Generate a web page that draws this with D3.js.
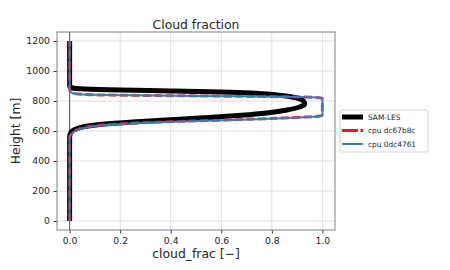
<!DOCTYPE html>
<html lang="en">
<head>
  <meta charset="UTF-8">
  <title>Cloud fraction</title>
  <script src="https://d3js.org/d3.v7.min.js"></script>
  <style>
    body { margin: 0; background: #fff; }
    text { font-family: "DejaVu Sans", sans-serif; fill: #262626; }
    .grid line { stroke: #d6d6d6; stroke-width: 0.8; }
    .axis path { display: none; }
    .axis line { stroke: #333; }
  </style>
</head>
<body>
  <script>
    // SAM-LES profile (height [m], cloud fraction)
    var lesHeight = [0, 560, 590, 610, 630, 645, 660, 675, 690, 705, 720, 740, 760, 780, 800, 820, 835, 850, 860, 867, 873, 880, 888, 900, 1200];
    var lesFrac   = [0, 0, 0.005, 0.02, 0.06, 0.13, 0.25, 0.4, 0.55, 0.68, 0.78, 0.86, 0.91, 0.93, 0.925, 0.9, 0.85, 0.75, 0.6, 0.4, 0.2, 0.06, 0.01, 0, 0];

    // cpu dc67b8c
    var redHeight = [0, 560, 575, 590, 605, 620, 635, 645, 655, 665, 675, 685, 693, 699, 705, 815, 821, 826, 831, 836, 841, 846, 852, 862, 875, 1200];
    var redFrac   = [0, 0, 0.005, 0.012, 0.025, 0.05, 0.1, 0.17, 0.27, 0.45, 0.65, 0.82, 0.93, 0.985, 1.0, 1.0, 0.99, 0.93, 0.7, 0.35, 0.1, 0.035, 0.015, 0.004, 0, 0];

    // cpu 0dc4761
    var blueHeight = [0, 560, 575, 590, 605, 620, 635, 645, 655, 665, 675, 685, 693, 699, 705, 815, 821, 826, 831, 836, 841, 846, 852, 862, 875, 1200];
    var blueFrac   = [0, 0, 0.006, 0.014, 0.028, 0.055, 0.11, 0.19, 0.3, 0.48, 0.68, 0.84, 0.94, 0.99, 1.0, 1.0, 0.99, 0.92, 0.68, 0.33, 0.09, 0.03, 0.012, 0.003, 0, 0];

    var xTicks = [0, 0.2, 0.4, 0.6, 0.8, 1.0];
    var yTicks = [0, 200, 400, 600, 800, 1000, 1200];

    var w = 450, h = 270;
    var pLeft = 57, pRight = 335, pTop = 32, pBottom = 230;

    var svg = d3.select("body").append("svg")
      .attr("width", w)
      .attr("height", h);

    var xScale = d3.scaleLinear().domain([-0.05, 1.05]).range([pLeft, pRight]);
    var yScale = d3.scaleLinear().domain([-60, 1260]).range([pBottom, pTop]);

    // grid
    var grid = svg.append("g").attr("class", "grid");
    grid.selectAll(".gx").data(xTicks).enter().append("line")
      .attr("x1", function(d) { return xScale(d); })
      .attr("x2", function(d) { return xScale(d); })
      .attr("y1", pTop).attr("y2", pBottom);
    grid.selectAll(".gy").data(yTicks).enter().append("line")
      .attr("y1", function(d) { return yScale(d); })
      .attr("y2", function(d) { return yScale(d); })
      .attr("x1", pLeft).attr("x2", pRight);

    // zero line
    svg.append("line")
      .attr("x1", xScale(0)).attr("x2", xScale(0))
      .attr("y1", pTop).attr("y2", pBottom)
      .attr("stroke", "#555").attr("stroke-width", 1);

    var line = d3.line()
      .x(function(d) { return xScale(d[1]); })
      .y(function(d) { return yScale(d[0]); })
      .curve(d3.curveMonotoneY);

    svg.append("path")
      .datum(d3.zip(lesHeight, lesFrac))
      .attr("d", line)
      .attr("fill", "none")
      .attr("stroke", "#000")
      .attr("stroke-width", 5);

    svg.append("path")
      .datum(d3.zip(redHeight, redFrac))
      .attr("d", line)
      .attr("fill", "none")
      .attr("stroke", "#e41a1c")
      .attr("stroke-opacity", 0.85)
      .attr("stroke-width", 3)
      .attr("stroke-dasharray", "8,3.5");

    svg.append("path")
      .datum(d3.zip(blueHeight, blueFrac))
      .attr("d", line)
      .attr("fill", "none")
      .attr("stroke", "#377eb8")
      .attr("stroke-width", 2);

    // axes
    var xAxis = d3.axisBottom(xScale).tickValues(xTicks).tickFormat(d3.format(".1f")).tickSize(3.5).tickPadding(3.5);
    svg.append("g")
      .attr("class", "axis")
      .attr("transform", "translate(0," + pBottom + ")")
      .call(xAxis)
      .selectAll("text").style("font-size", "9.3px").style("font-family", "DejaVu Sans").attr("fill", "#262626");

    var yAxis = d3.axisLeft(yScale).tickValues(yTicks).tickFormat(d3.format("d")).tickSize(3.5).tickPadding(3.5);
    svg.append("g")
      .attr("class", "axis")
      .attr("transform", "translate(" + pLeft + ",0)")
      .call(yAxis)
      .selectAll("text").style("font-size", "9.3px").style("font-family", "DejaVu Sans").attr("fill", "#262626");

    // frame
    svg.append("rect")
      .attr("x", pLeft).attr("y", pTop)
      .attr("width", pRight - pLeft).attr("height", pBottom - pTop)
      .attr("fill", "none").attr("stroke", "#808080").attr("stroke-width", 1);

    // labels
    svg.append("text")
      .attr("x", (pLeft + pRight) / 2).attr("y", 29)
      .attr("text-anchor", "middle")
      .style("font-size", "12.4px")
      .text("Cloud fraction");

    svg.append("text")
      .attr("x", (pLeft + pRight) / 2).attr("y", 258)
      .attr("text-anchor", "middle")
      .style("font-size", "12.4px")
      .text("cloud_frac [\u2212]");

    svg.append("text")
      .attr("transform", "translate(20," + (pTop + pBottom) / 2 + ") rotate(-90)")
      .attr("text-anchor", "middle")
      .style("font-size", "12.4px")
      .text("Height [m]");

    // legend
    var legend = svg.append("g").attr("transform", "translate(340,110)");
    legend.append("rect")
      .attr("width", 88).attr("height", 42).attr("rx", 2)
      .attr("fill", "#fff").attr("stroke", "#ccc").attr("stroke-width", 0.8);

    var legendItems = [
      { label: "SAM-LES", color: "#000", width: 5, dash: null },
      { label: "cpu dc67b8c", color: "#e41a1c", width: 3, dash: "16,2.5" },
      { label: "cpu 0dc4761", color: "#377eb8", width: 2, dash: null }
    ];
    legendItems.forEach(function(d, i) {
      var y = 7 + i * 13.5;
      legend.append("line")
        .attr("x1", 2).attr("x2", 23).attr("y1", y).attr("y2", y)
        .attr("stroke", d.color).attr("stroke-width", d.width)
        .attr("stroke-dasharray", d.dash);
      legend.append("text")
        .attr("x", 28).attr("y", y + 2.7)
        .style("font-size", "7.4px")
        .text(d.label);
    });
  </script>
</body>
</html>
